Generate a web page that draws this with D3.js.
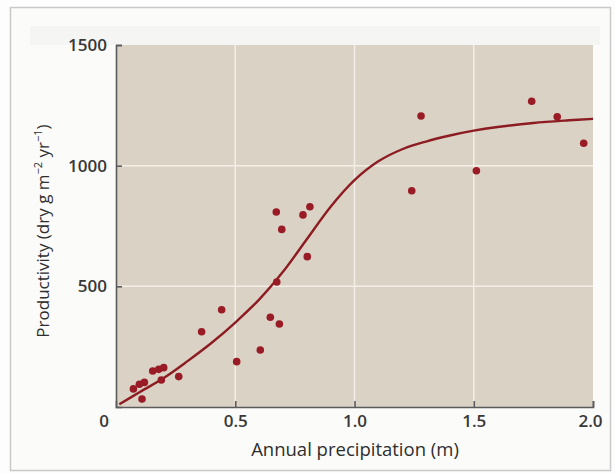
<!DOCTYPE html>
<html>
<head>
<meta charset="utf-8">
<script src="https://cdn.jsdelivr.net/npm/d3@7"></script>
<style>
  html, body { margin: 0; padding: 0; background: #fdfdfd; }
  svg { display: block; font-family: "Open Sans", "Noto Sans", sans-serif; }
</style>
</head>
<body>
<div id="vis"></div>
<script>
// observed sites: precipitation (m) and productivity (dry g m-2 yr-1)
var precip = [0.073, 0.098, 0.119, 0.109, 0.154, 0.179, 0.200, 0.190, 0.263,
	0.359, 0.443, 0.506, 0.605, 0.647, 0.685, 0.674, 0.695, 0.672, 0.784, 0.813, 0.802,
	1.240, 1.279, 1.511, 1.743, 1.850, 1.961];
var productivity = [75, 94, 102, 33, 149, 156, 163, 112, 126,
	312, 403, 188, 236, 372, 344, 518, 736, 808, 796, 830, 623,
	896, 1206, 979, 1267, 1203, 1093];

// fitted curve
var curveX = [0.014, 0.1, 0.2, 0.3, 0.4, 0.5, 0.6, 0.7, 0.8, 0.9, 1.0, 1.1,
	1.2, 1.3, 1.4, 1.5, 1.6, 1.75, 1.9, 2.0];
var curveY = [11, 62, 120, 190, 265, 350, 445, 560, 695, 830, 940, 1018,
	1068, 1100, 1125, 1145, 1160, 1177, 1188, 1194];

var xTicks = [0.5, 1.0, 1.5, 2.0],
	xTickLabels = ["0.5", "1.0", "1.5", "2.0"];
var yTicks = [500, 1000, 1500];

var width = 615,
	height = 474;

var margin = {left: 116, right: 22, top: 45, bottom: 67};

var x = d3.scaleLinear()
		.domain([0, 2])
		.range([margin.left, width - margin.right]),
	y = d3.scaleLinear()
		.domain([0, 1500])
		.range([height - margin.bottom, margin.top]);

var svg = d3.select('#vis')
	.append('svg')
	.attr('width', width)
	.attr('height', height);

// page frame
svg.append('rect')
	.attr('x', 10.5).attr('y', 7.5)
	.attr('width', 600).attr('height', 463)
	.style('fill', '#fbfbfa')
	.style('stroke', '#c9c9c9')
	.style('stroke-width', 1.5);

svg.append('rect')
	.attr('x', 30).attr('y', 26)
	.attr('width', 570).attr('height', 19)
	.style('fill', '#f5f5f4');

// plot background
svg.append('rect')
	.attr('x', x(0)).attr('y', y(1500))
	.attr('width', x(2) - x(0))
	.attr('height', y(0) - y(1500))
	.style('fill', '#dad2c4');

// grid
svg.append('g')
	.selectAll('line')
	.data([0.5, 1.0, 1.5])
	.enter()
	.append('line')
	.attr('x1', function(d) { return x(d); })
	.attr('x2', function(d) { return x(d); })
	.attr('y1', y(1500))
	.attr('y2', y(0))
	.style('stroke', '#f3efe8')
	.style('stroke-width', 1.5);

svg.append('g')
	.selectAll('line')
	.data([500, 1000])
	.enter()
	.append('line')
	.attr('x1', x(0))
	.attr('x2', x(2))
	.attr('y1', function(d) { return y(d); })
	.attr('y2', function(d) { return y(d); })
	.style('stroke', '#f3efe8')
	.style('stroke-width', 1.5);

// axes, ticks pointing inward
var xAxis = d3.axisBottom(x)
	.tickValues(xTicks)
	.tickSize(-6)
	.tickFormat(function(d, i) { return xTickLabels[i]; });

var yAxis = d3.axisLeft(y)
	.tickValues(yTicks)
	.tickSize(-6)
	.tickFormat(d3.format('d'));

var gx = svg.append('g')
	.attr('transform', 'translate(0,' + y(0) + ')')
	.call(xAxis);

var gy = svg.append('g')
	.attr('transform', 'translate(' + x(0) + ',0)')
	.call(yAxis);

[gx, gy].forEach(function(g) {
	g.select('.domain').style('stroke', '#5b5b5b').style('stroke-width', 1.6);
	g.selectAll('.tick line').style('stroke', '#5b5b5b').style('stroke-width', 1.6);
	g.selectAll('.tick text')
		.style('font-family', '"Open Sans", sans-serif')
		.style('font-size', '17px')
		.style('font-weight', 600)
		.style('fill', '#383838');
});

gx.selectAll('.tick text').attr('y', 8).attr('dy', '0.71em');
gx.selectAll('.tick')
	.filter(function(d) { return d === 2; })
	.select('text')
	.attr('dx', -3);
gy.selectAll('.tick text').attr('x', -9);

// shared origin label
svg.append('text')
	.attr('x', 104)
	.attr('y', y(0) + 8)
	.attr('dy', '0.71em')
	.attr('text-anchor', 'middle')
	.style('font-size', '17px')
	.style('font-weight', 600)
	.style('fill', '#383838')
	.text('0');

// axis titles
svg.append('text')
	.attr('x', 355)
	.attr('y', 456)
	.attr('text-anchor', 'middle')
	.style('font-size', '18.5px')
	.style('fill', '#2e2e2e')
	.text('Annual precipitation (m)');

var yTitle = svg.append('text')
	.attr('transform', 'translate(49,231) rotate(-90)')
	.attr('text-anchor', 'middle')
	.style('font-size', '17px')
	.style('fill', '#2e2e2e');

yTitle.append('tspan').text('Productivity (dry g m');
yTitle.append('tspan').attr('dy', -7).style('font-size', '11px').text('\u22122');
yTitle.append('tspan').attr('dy', 7).text(' yr');
yTitle.append('tspan').attr('dy', -7).style('font-size', '11px').text('\u22121');
yTitle.append('tspan').attr('dy', 7).text(')');

// fitted curve
var line = d3.line()
	.x(function(d) { return x(d[0]); })
	.y(function(d) { return y(d[1]); })
	.curve(d3.curveCatmullRom.alpha(0.5));

svg.append('path')
	.datum(curveX.map(function(d, i) { return [d, curveY[i]]; }))
	.attr('d', line)
	.style('fill', 'none')
	.style('stroke', '#8c1c22')
	.style('stroke-width', 2.4);

// data points
svg.append('g')
	.selectAll('circle')
	.data(precip)
	.enter()
	.append('circle')
	.attr('cx', function(d) { return x(d); })
	.attr('cy', function(d, i) { return y(productivity[i]); })
	.attr('r', 3.8)
	.style('fill', '#981b26');
</script>
</body>
</html>
